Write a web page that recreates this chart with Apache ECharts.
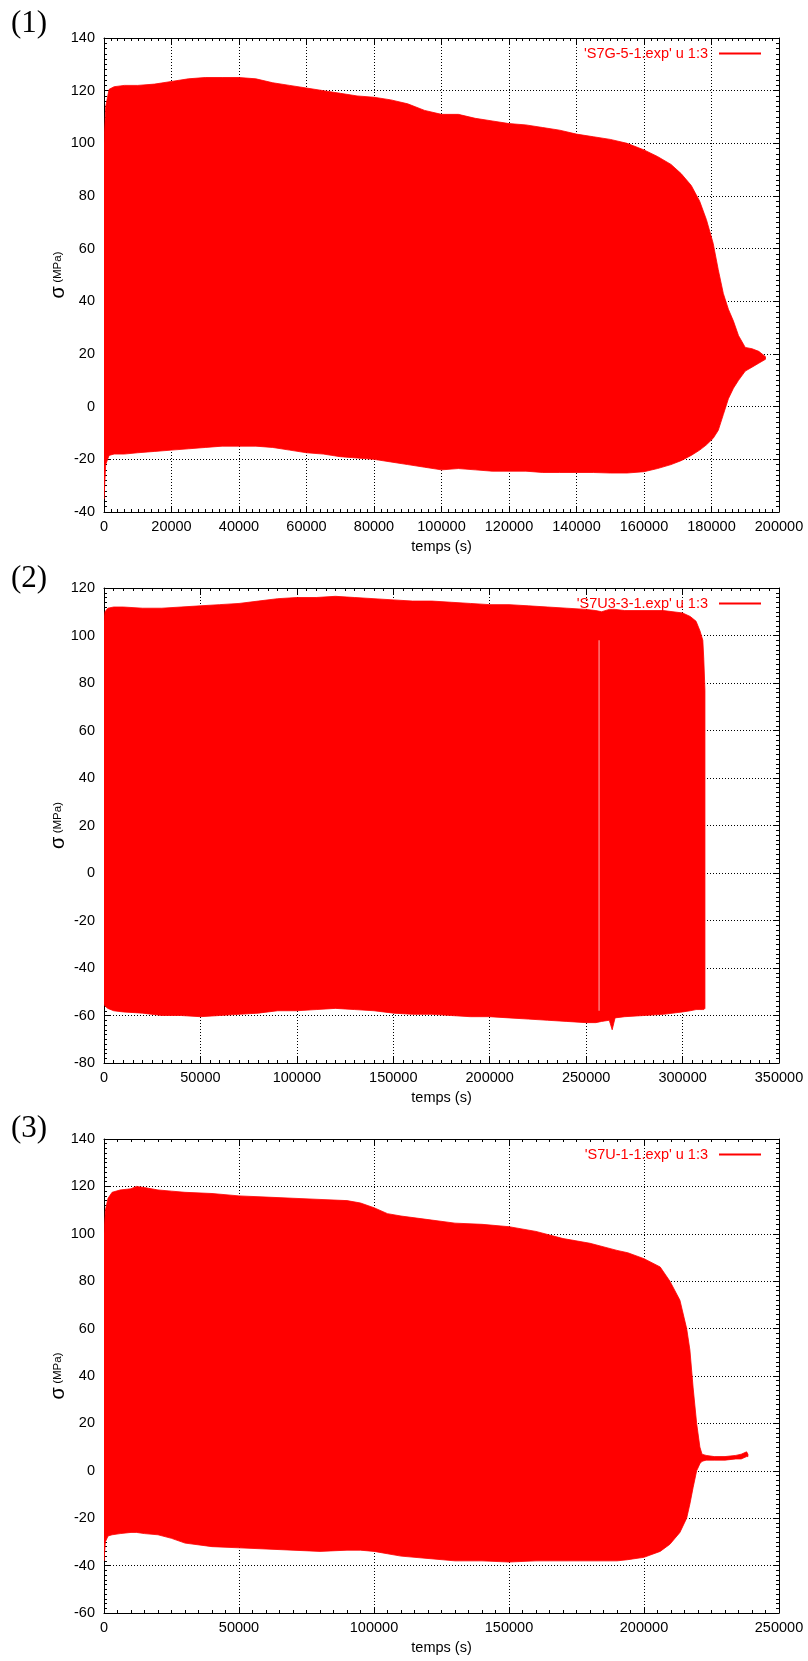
<!DOCTYPE html>
<html><head><meta charset="utf-8">
<script src="https://cdn.jsdelivr.net/npm/echarts@6/dist/echarts.min.js"></script>
<style>html,body{margin:0;padding:0;background:#fff}#c{width:808px;height:1661px}</style>
</head><body><div id="c"></div>
<script>
// ---------- Panel 1 : S7G-5-1 ----------
const name1 = "'S7G-5-1.exp' u 1:3";
const t1 = [0, 500, 1500, 3000, 6000, 10000, 15000, 20000, 25000, 30000, 35000, 40000, 45000, 50000, 55000, 60000, 65000, 70000, 75000, 80000, 85000, 90000, 95000, 100000, 105000, 110000, 115000, 120000, 125000, 130000, 135000, 140000, 145000, 150000, 155000, 160000, 164000, 168000, 171000, 174000, 176500, 178500, 180500, 182000, 183500, 185000, 186500, 188000, 190000, 192000, 194000, 196000];
const upper1 = [100, 114, 120.5, 121.5, 122, 122, 122.5, 123.5, 124.5, 125, 125, 125, 124.5, 123, 122, 121, 120, 119, 118, 117.5, 116.5, 115, 112.5, 111, 111, 109.5, 108.5, 107.5, 107, 106, 105, 103.5, 102.5, 101.5, 100, 97.5, 95, 92, 88.5, 84, 78, 71, 62, 52, 43, 37, 32.5, 27, 22.5, 22, 21, 19];
const lower1 = [-35, -22, -18.5, -18, -18, -17.5, -17, -16.5, -16, -15.5, -15, -15, -15, -15.5, -16.5, -17.5, -18, -19, -19.5, -20, -21, -22, -23, -24, -23.5, -24, -24.5, -24.5, -24.5, -25, -25, -25, -25, -25.2, -25.2, -24.7, -23.5, -22, -20.5, -18.5, -16.5, -14.5, -12, -9, -3, 3, 7, 10, 13.5, 15, 16.5, 18];
const xTicks1 = [0, 20000, 40000, 60000, 80000, 100000, 120000, 140000, 160000, 180000, 200000];
const yTicks1 = [-40, -20, 0, 20, 40, 60, 80, 100, 120, 140];

// ---------- Panel 2 : S7U3-3-1 ----------
const name2 = "'S7U3-3-1.exp' u 1:3";
const t2 = [0, 500, 2000, 5000, 10000, 20000, 30000, 40000, 50000, 60000, 70000, 80000, 90000, 100000, 110000, 120000, 130000, 140000, 150000, 160000, 170000, 180000, 190000, 200000, 210000, 220000, 230000, 240000, 250000, 255000, 258000, 262000, 263500, 265000, 270000, 280000, 290000, 300000, 304000, 307000, 309000, 310500, 311000, 311600];
const upper2 = [106, 110, 111.5, 112, 112, 111.5, 111.5, 112, 112.5, 113, 113.5, 114.5, 115.5, 116, 116, 116.5, 116, 115.5, 115, 114.5, 114.5, 114, 113.5, 113, 113, 112.5, 112, 111.5, 111, 110.5, 110, 111, 111, 111, 110.5, 110.5, 110.5, 109.5, 108, 106, 102, 98, 90, 77];
const lower2 = [-55, -56, -57, -58, -58.5, -59, -60, -60, -60.5, -60, -59.5, -59, -58, -58, -57.5, -57, -57.5, -58, -59, -59.5, -59.5, -60, -60.5, -60.5, -61, -61.5, -62, -62.5, -63, -63, -62.5, -62, -66, -61, -60.5, -60, -59.5, -58.5, -58, -57.5, -57.5, -57.5, -57.5, -57];
const gap2T = [256700, 256700];
const gap2V = [-58, 98];
const xTicks2 = [0, 50000, 100000, 150000, 200000, 250000, 300000, 350000];
const yTicks2 = [-80, -60, -40, -20, 0, 20, 40, 60, 80, 100, 120];

// ---------- Panel 3 : S7U-1-1 ----------
const name3 = "'S7U-1-1.exp' u 1:3";
const t3 = [0, 500, 1500, 3000, 6000, 10000, 12000, 15000, 20000, 25000, 30000, 40000, 50000, 60000, 70000, 80000, 90000, 95000, 100000, 105000, 110000, 120000, 130000, 140000, 150000, 160000, 170000, 180000, 190000, 194000, 200000, 206000, 209600, 213300, 215800, 217000, 218200, 219500, 220700, 221500, 223000, 226000, 230000, 234000, 236000, 238000, 238500];
const upper3 = [100, 110, 115, 117.5, 118.5, 119, 120, 119.5, 118.5, 118, 117.5, 117, 116, 115.5, 115, 114.5, 114, 113, 111, 108.5, 107.5, 106, 104.5, 104, 103, 101, 98, 96, 93, 92, 89.5, 86, 80, 72, 60, 51, 35, 20, 10, 7, 6.5, 6, 6, 6.5, 7, 8, 7];
const lower3 = [-38, -30, -27.5, -27, -26.5, -26, -26, -26.5, -27, -28.5, -30.5, -32, -32.5, -33, -33.5, -34, -33.5, -33.5, -34, -35, -36, -37, -38, -38, -38.5, -38, -38, -38, -38, -37.5, -36.5, -34, -31, -26, -20, -14, -7, 0, 3, 4, 4.5, 4.5, 4.5, 5, 5, 6, 6];
const xTicks3 = [0, 50000, 100000, 150000, 200000, 250000];
const yTicks3 = [-60, -40, -20, 0, 20, 40, 60, 80, 100, 120, 140];

const RED = '#ff0000';
const FONT = '"Liberation Sans", Arial, Helvetica, sans-serif';
const FS = 14.5;

const panels = [
  {name: name1, t: t1, up: upper1, lo: lower1, xt: xTicks1, yt: yTicks1, top: 38, h: 474, label: '(1)', labelTop: 8.5},
  {name: name2, t: t2, up: upper2, lo: lower2, xt: xTicks2, yt: yTicks2, top: 588, h: 475, label: '(2)', labelTop: 563.5, gapT: gap2T, gapV: gap2V},
  {name: name3, t: t3, up: upper3, lo: lower3, xt: xTicks3, yt: yTicks3, top: 1139, h: 474, label: '(3)', labelTop: 1113.5}
];

function envelopeRender(params, api) {
  if (params.dataIndexInside !== 0) return null;
  const n = params.dataInsideLength;
  const pts = [];
  for (let k = 0; k < n; k++) pts.push(api.coord([api.value(0, k), api.value(1, k)]));
  for (let k = n - 1; k >= 0; k--) pts.push(api.coord([api.value(0, k), api.value(2, k)]));
  return {type: 'polygon', shape: {points: pts}, style: {fill: RED, stroke: RED, lineWidth: 0.8}};
}

const grid = [], xAxis = [], yAxis = [], series = [], legend = [], graphic = [];
panels.forEach((p, i) => {
  grid.push({left: 104, width: 675, top: p.top, height: p.h, containLabel: false});
  const xmin = p.xt[0], xmax = p.xt[p.xt.length - 1], xint = p.xt[1] - p.xt[0];
  const ymin = p.yt[0], ymax = p.yt[p.yt.length - 1], yint = p.yt[1] - p.yt[0];
  const axLine = {show: true, onZero: false, lineStyle: {color: '#000', width: 1}};
  const tick = {show: true, inside: true, length: 6, lineStyle: {color: '#000'}};
  const minor = {show: true, splitNumber: 10, length: 3, lineStyle: {color: '#000'}};
  const split = {show: true, lineStyle: {color: '#000', type: [1, 2], width: 1}};
  xAxis.push({type: 'value', gridIndex: i, position: 'bottom', min: xmin, max: xmax, interval: xint,
    axisLine: axLine, axisTick: tick, minorTick: minor, splitLine: split,
    axisLabel: {show: true, color: '#000', fontFamily: FONT, fontSize: FS, margin: 7,
      showMinLabel: true, showMaxLabel: true, formatter: v => String(v)},
    name: 'temps (s)', nameLocation: 'middle', nameGap: 27,
    nameTextStyle: {color: '#000', fontFamily: FONT, fontSize: FS}});
  xAxis.push({type: 'value', gridIndex: i, position: 'top', min: xmin, max: xmax, interval: xint,
    axisLine: axLine, axisTick: tick, minorTick: minor, splitLine: {show: false}, axisLabel: {show: false}});
  yAxis.push({type: 'value', gridIndex: i, position: 'left', min: ymin, max: ymax, interval: yint,
    axisLine: axLine, axisTick: tick, minorTick: minor, splitLine: split,
    axisLabel: {show: true, color: '#000', fontFamily: FONT, fontSize: FS, margin: 9,
      showMinLabel: true, showMaxLabel: true, formatter: v => String(v)},
    name: '{s|σ} {m|(MPa)}', nameLocation: 'middle', nameRotate: 90, nameGap: 36, nameMoveOverlap: false,
    nameTextStyle: {color: '#000', fontFamily: FONT,
      rich: {s: {fontSize: 20, fontFamily: FONT, color: '#000'}, m: {fontSize: 11.5, fontFamily: FONT, color: '#000'}}}});
  yAxis.push({type: 'value', gridIndex: i, position: 'right', min: ymin, max: ymax, interval: yint,
    axisLine: axLine, axisTick: tick, minorTick: minor, splitLine: {show: false}, axisLabel: {show: false}});

  series.push({type: 'custom', name: p.name, coordinateSystem: 'cartesian2d',
    xAxisIndex: 2 * i, yAxisIndex: 2 * i,
    data: p.t.map((x, k) => [x, p.up[k], p.lo[k]]),
    encode: {x: 0, y: [1, 2]}, renderItem: envelopeRender, clip: true, silent: true,
    itemStyle: {color: RED}, z: 3});
  if (p.gapT) {
    series.push({type: 'line', xAxisIndex: 2 * i, yAxisIndex: 2 * i,
      data: p.gapT.map((x, k) => [x, p.gapV[k]]), symbol: 'none', silent: true,
      lineStyle: {color: '#ffb3b3', width: 1}, z: 4});
  }
  legend.push({data: [{name: p.name, icon: 'rect'}], right: 47, top: p.top + 8, padding: 0,
    align: 'right', selectedMode: false, itemWidth: 42, itemHeight: 2,
    itemStyle: {color: RED},
    textStyle: {color: RED, fontFamily: FONT, fontSize: FS, padding: [0, 6, 0, 0]}});
  graphic.push({type: 'text', left: 11, top: p.labelTop,
    style: {text: p.label, font: '31px "Liberation Serif", "DejaVu Serif", serif', fill: '#000'}});
});

const chart = echarts.init(document.getElementById('c'), null, {renderer: 'canvas'});
chart.setOption({animation: false, backgroundColor: '#fff', grid, xAxis, yAxis, series, legend, graphic});
</script></body></html>
